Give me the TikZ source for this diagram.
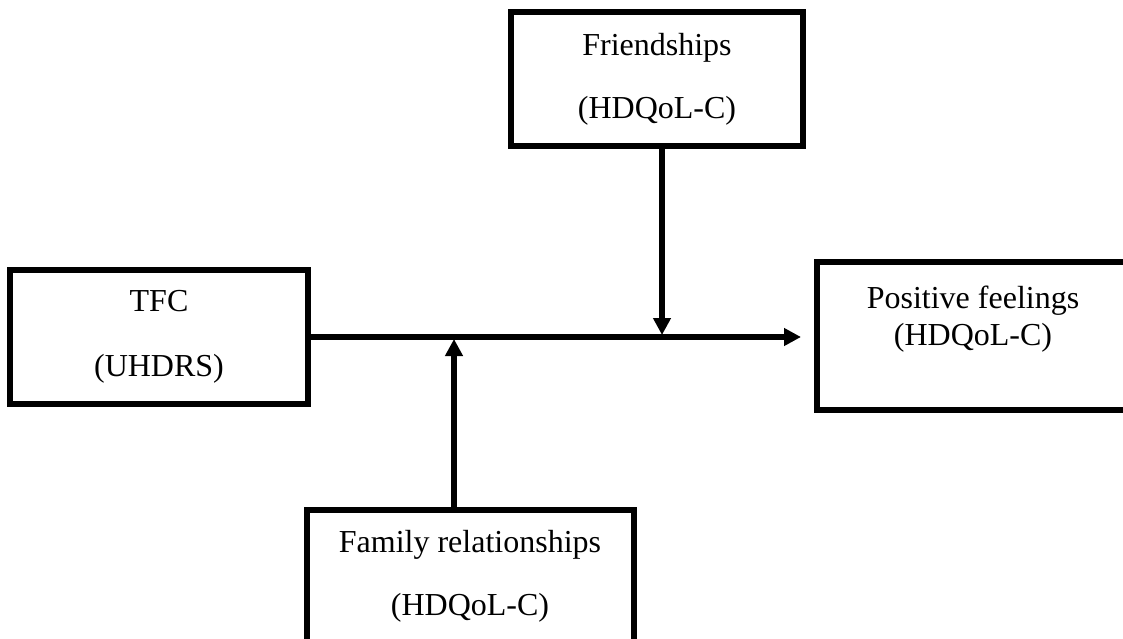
\documentclass[tikz,border=0pt]{standalone}
\usepackage{fontspec}
\setmainfont{Liberation Serif}
\usetikzlibrary{arrows.meta}

\tikzset{
  box/.style={draw, line width=6pt, align=center, inner sep=0pt,
    font=\fontsize{32}{37}\selectfont},
  conn/.style={line width=6pt, -{Triangle[length=17pt,width=17pt]}}
}

\begin{document}
\begin{tikzpicture}[x=1pt,y=-1pt]
      \useasboundingbox (0,0) rectangle (1123,639);
      % boxes
      \node[box, minimum width=292pt, minimum height=134pt] (friend) at (657,79)
        {Friendships\\[26pt](HDQoL-C)};
      \node[box, minimum width=298pt, minimum height=134pt] (tfc) at (159,337)
        {TFC\\[28pt](UHDRS)};
      \node[box, minimum width=327pt, minimum height=132pt] (family) at (470,576)
        {Family relationships\\[26pt](HDQoL-C)};
      \node[box, minimum width=312pt, minimum height=148pt] (pos) at (973,336) {};
      \node[font=\fontsize{32}{37}\selectfont, align=center, inner sep=0pt] (posText) at (973,319)
        {Positive feelings\\(HDQoL-C)};
      % where the arrows meet the main line
      \coordinate (fHit) at (662,335);
      \coordinate (rHit) at (454,339);
      \draw[conn, shorten >=13pt] (tfc.east) -- (tfc.east -| pos.west);
      \draw[conn] (friend.south -| fHit) -- (fHit);
      \draw[conn] (family.north -| rHit) -- (rHit);
    \end{tikzpicture}
\end{document}
